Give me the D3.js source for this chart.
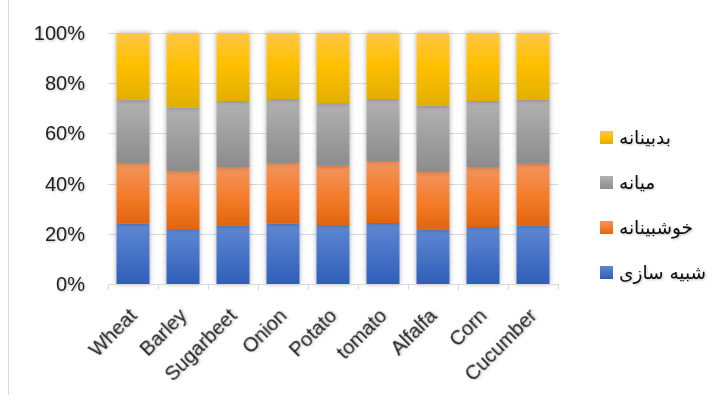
<!DOCTYPE html>
<html><head><meta charset="utf-8">
<script src="https://cdn.jsdelivr.net/npm/d3@7"></script>
<style>body{margin:0;background:#fff}svg{display:block}</style>
</head><body>
<svg id="c" width="721" height="401"></svg>
<script>
const categories = ["Wheat","Barley","Sugarbeet","Onion","Potato","tomato","Alfalfa","Corn","Cucumber"];
const seriesNames = ["شبیه سازی","خوشبینانه","میانه","بدبینانه"];
const simulated  = [24.0,21.9,23.2,24.0,23.5,24.3,21.6,22.7,23.2];
const optimistic = [24.2,23.1,23.4,24.2,23.6,24.7,23.0,23.9,24.7];
const medium     = [25.1,25.4,26.3,25.5,25.0,24.7,26.4,26.3,25.5];
const pessimistic= [26.7,29.6,27.1,26.3,27.9,26.3,29.0,27.1,26.6];
const yTicks = [0,0.2,0.4,0.6,0.8,1.0];

const seriesVals = [simulated, optimistic, medium, pessimistic];
const keys = ["s0","s1","s2","s3"];
const table = categories.map((c,i)=>{
  const tot = seriesVals.reduce((a,s)=>a+s[i],0);
  const o = {cat:c};
  keys.forEach((k,j)=>o[k]=seriesVals[j][i]/tot);
  return o;
});
const stacked = d3.stack().keys(keys)(table);

const svg = d3.select("#c");
const defs = svg.append("defs");
const grads = [
  [["0%","#5f88d3"],["100%","#2f5eb8"]],
  [["0%","#f2955e"],["55%","#f47b28"],["100%","#e0650f"]],
  [["0%","#b2b2b2"],["100%","#8c8c8c"]],
  [["0%","#ffc647"],["45%","#ffc000"],["100%","#e2af00"]]
];
grads.forEach((g,i)=>{
  const lg = defs.append("linearGradient").attr("id","g"+i).attr("x1",0).attr("y1",0).attr("x2",0).attr("y2",1);
  g.forEach(s=>lg.append("stop").attr("offset",s[0]).attr("stop-color",s[1]));
});
const f = defs.append("filter").attr("id","sh").attr("x","-30%").attr("y","-10%").attr("width","160%").attr("height","120%");
f.append("feDropShadow").attr("dx",0).attr("dy",0).attr("stdDeviation",2.5).attr("flood-color","#000").attr("flood-opacity",0.35);
const tf = defs.append("filter").attr("id","tsh").attr("x","-10%").attr("y","-10%").attr("width","130%").attr("height","140%");
tf.append("feDropShadow").attr("dx",1).attr("dy",1).attr("stdDeviation",0.8).attr("flood-color","#000").attr("flood-opacity",0.25);

// outer border line
svg.append("line").attr("x1",8.5).attr("x2",8.5).attr("y1",0).attr("y2",395).attr("stroke","#d9d9d9").attr("stroke-width",1);

const x = d3.scaleBand().domain(categories).range([108,558]).paddingInner(0.34).paddingOuter(0.17);
const y = d3.scaleLinear().domain([0,1]).range([284,33]);

// gridlines
svg.append("g").selectAll("line").data(yTicks).join("line")
  .attr("x1",108).attr("x2",558).attr("y1",d=>Math.round(y(d))+0.5).attr("y2",d=>Math.round(y(d))+0.5)
  .attr("stroke","#d9d9d9").attr("stroke-width",1);

// y labels
svg.append("g").selectAll("text").data(yTicks).join("text")
  .attr("x",85).attr("y",d=>y(d)).attr("dy","0.35em").attr("text-anchor","end")
  .attr("font-family","Liberation Sans, Arial, sans-serif").attr("font-size",20).attr("fill","#222")
  .attr("filter","url(#tsh)")
  .text(d=>d3.format(".0%")(d));

// bars
svg.append("g").selectAll("g").data(stacked).join("g")
  .attr("fill",(d,i)=>`url(#g${i})`).attr("filter","url(#sh)")
  .selectAll("rect").data(d=>d).join("rect")
  .attr("x",d=>x(d.data.cat)).attr("width",x.bandwidth())
  .attr("y",d=>y(d[1])).attr("height",d=>y(d[0])-y(d[1]));

// x axis
const xa = svg.append("g");
xa.append("line").attr("x1",108).attr("x2",558).attr("y1",284.5).attr("y2",284.5).attr("stroke","#d9d9d9");
const bounds = categories.map((c,i)=>108+i*x.step()).concat([558]);
xa.selectAll("line.t").data(bounds).join("line").attr("class","t")
  .attr("x1",d=>d+0.5).attr("x2",d=>d+0.5).attr("y1",284).attr("y2",290).attr("stroke","#d9d9d9");
xa.selectAll("text").data(categories).join("text")
  .attr("transform",d=>`translate(${x(d)+x.bandwidth()/2+5},${317}) rotate(-45)`)
  .attr("text-anchor","end")
  .attr("font-family","Liberation Sans, Arial, sans-serif").attr("font-size",20).attr("fill","#222")
  .attr("filter","url(#tsh)")
  .text(d=>d);

// legend
const legOrder = [3,2,1,0];
const lg = svg.append("g");
legOrder.forEach((si,k)=>{
  const yy = 131 + k*45;
  lg.append("rect").attr("x",600).attr("y",yy).attr("width",13).attr("height",13).attr("fill",`url(#g${si})`);
  lg.append("text").attr("x",619).attr("y",yy+7).attr("dy","0.35em")
    .attr("font-family","DejaVu Serif, DejaVu Sans, serif").attr("font-size",18.5).attr("fill","#111")
    .attr("filter","url(#tsh)")
    .text(seriesNames[si]);
});
</script>
</body></html>
